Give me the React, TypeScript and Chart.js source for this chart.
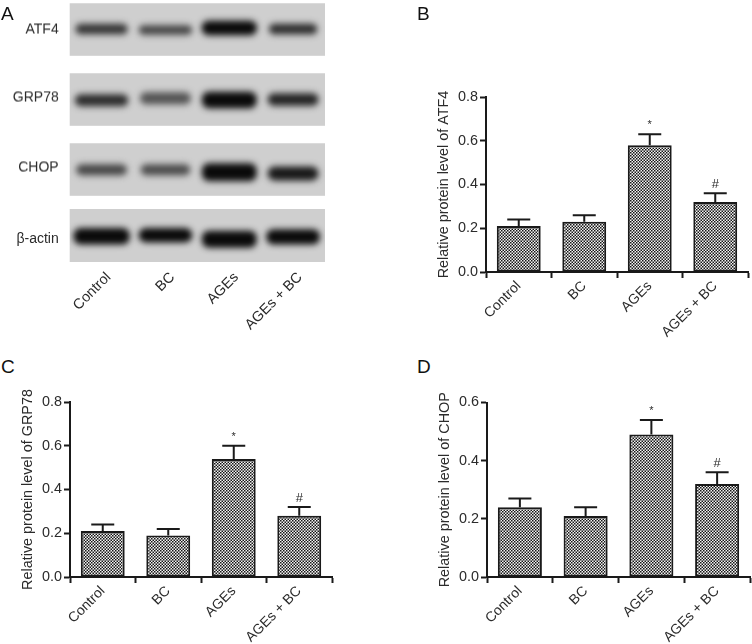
import React, { useEffect, useRef } from "react";
import { Chart, registerables } from "chart.js";

Chart.register(...registerables);

const categories = ["Control", "BC", "AGEs", "AGEs + BC"];

const atf4Values = [0.21, 0.23, 0.58, 0.32];
const atf4ErrorTops = [0.24, 0.26, 0.63, 0.36];
const grp78Values = [0.21, 0.19, 0.54, 0.28];
const grp78ErrorTops = [0.24, 0.22, 0.6, 0.32];
const chopValues = [0.24, 0.21, 0.49, 0.32];
const chopErrorTops = [0.27, 0.24, 0.54, 0.36];
const significance = ["", "", "*", "#"];
const ticksTo08 = [0, 0.2, 0.4, 0.6, 0.8];
const ticksTo06 = [0, 0.2, 0.4, 0.6];

// Blot bands: vertical extent (percent of strip height), optical density, lane-width share
const atf4Bands = [[41, 61], [40, 58], [39, 67], [41, 61]];
const atf4Density = [0.78, 0.7, 1, 0.82];
const atf4Widths = [0.82, 0.84, 0.87, 0.76];
const grp78Bands = [[37, 60], [41, 64], [33, 65], [38, 62]];
const grp78Density = [0.82, 0.62, 1, 0.86];
const grp78Widths = [0.84, 0.8, 0.86, 0.8];
const chopBands = [[39, 60], [39, 60], [28, 62], [29, 56]];
const chopDensity = [0.68, 0.66, 1, 0.92];
const chopWidths = [0.8, 0.78, 0.86, 0.8];
const actinBands = [[33, 64], [37, 64], [27, 59], [33, 62]];
const actinDensity = [1, 1, 1, 1];
const actinWidths = [0.88, 0.84, 0.86, 0.84];

const FONT = "'Liberation Sans', Arial, sans-serif";
const INK = "#2b2b2b";
const FONT_SIZE = 14.4;
const LABEL_SIZE = 14;

function hatch(): CanvasPattern | string {
  const c = document.createElement("canvas");
  c.width = 6;
  c.height = 6;
  const g = c.getContext("2d");
  if (!g) return "#888";
  g.fillStyle = "#f4f4f4";
  g.fillRect(0, 0, 6, 6);
  g.fillStyle = "#151515";
  for (let i = 0; i < 4; i++) {
    for (let j = 0; j < 4; j++) {
      if ((i + j) % 2 === 0) g.fillRect(i * 1.5, j * 1.5, 1.5, 1.5);
    }
  }
  return g.createPattern(c, "repeat") || "#888";
}

type BarBox = { left: number; top: number; width: number; height: number; areaLeft: number; areaTop: number; areaRight: number; areaBottom: number };

function BarPanel({ title, values, tops, max, ticks, box }: { title: string; values: number[]; tops: number[]; max: number; ticks: number[]; box: BarBox }) {
  const ref = useRef<HTMLCanvasElement>(null);
  useEffect(() => {
    const errorPlugin = {
      id: "errors",
      afterDatasetsDraw(chart: any) {
        const { ctx, scales } = chart;
        const meta = chart.getDatasetMeta(0);
        ctx.save();
        ctx.strokeStyle = "#1a1a1a";
        ctx.lineWidth = 2;
        meta.data.forEach((bar: any, i: number) => {
          const yTop = scales.y.getPixelForValue(tops[i]);
          const yBar = scales.y.getPixelForValue(values[i]);
          ctx.beginPath();
          ctx.moveTo(bar.x, yBar);
          ctx.lineTo(bar.x, yTop);
          ctx.moveTo(bar.x - 11.5, yTop);
          ctx.lineTo(bar.x + 11.5, yTop);
          ctx.stroke();
          if (significance[i]) {
            const star = significance[i] === "*";
            ctx.fillStyle = INK;
            ctx.textAlign = "center";
            ctx.textBaseline = "alphabetic";
            ctx.font = `${star ? 11 : 13}px ${FONT}`;
            ctx.fillText(significance[i], bar.x, yTop - (star ? 6 : 5));
          }
        });
        ctx.restore();
      },
    };
    const chart = new Chart(ref.current as HTMLCanvasElement, {
      type: "bar",
      data: {
        labels: categories,
        datasets: [
          {
            data: values,
            backgroundColor: hatch() as any,
            borderColor: "#1a1a1a",
            borderWidth: 2,
            borderSkipped: false,
            barPercentage: 0.67,
            categoryPercentage: 1,
          },
        ],
      },
      options: {
        responsive: false,
        animation: false,
        events: [],
        layout: {
          padding: {
            left: 0,
            top: box.areaTop - box.top,
            right: box.left + box.width - box.areaRight,
            bottom: 0,
          },
        },
        plugins: { legend: { display: false }, tooltip: { enabled: false }, title: { display: false } },
        scales: {
          x: {
            type: "category",
            offset: true,
            afterFit: (s: any) => {
              s.height = box.top + box.height - box.areaBottom;
            },
            grid: { display: true, drawOnChartArea: false, tickLength: 6, tickWidth: 2, tickColor: "#1a1a1a" },
            border: { display: true, color: "#1a1a1a", width: 2 },
            ticks: { font: { family: FONT, size: LABEL_SIZE }, color: INK, maxRotation: 45, minRotation: 45, padding: 0, autoSkip: false },
          },
          y: {
            type: "linear",
            min: 0,
            max,
            afterFit: (s: any) => {
              s.width = box.areaLeft - box.left;
            },
            afterBuildTicks: (s: any) => {
              s.ticks = ticks.map((value) => ({ value }));
            },
            grid: { display: true, drawOnChartArea: false, tickLength: 6, tickWidth: 2, tickColor: "#1a1a1a" },
            border: { display: true, color: "#1a1a1a", width: 2 },
            ticks: { font: { family: FONT, size: FONT_SIZE }, color: INK, padding: 2, callback: (v: any) => Number(v).toFixed(1) },
            title: { display: true, text: title, font: { family: FONT, size: FONT_SIZE }, color: INK, padding: { top: 0, bottom: 0 } },
          },
        },
      } as any,
      plugins: [errorPlugin],
    });
    return () => chart.destroy();
  }, []);
  return <canvas ref={ref} width={box.width} height={box.height} style={{ position: "absolute", left: box.left, top: box.top, width: box.width, height: box.height }} />;
}

function BlotStrip({ name, namePos, bands, density, widths, top, height, showLanes }: { name: string; namePos: number; bands: number[][]; density: number[]; widths: number[]; top: number; height: number; showLanes?: boolean }) {
  const ref = useRef<HTMLCanvasElement>(null);
  const pad = 24;
  const canvasHeight = height + pad + (showLanes ? 74 : pad);
  useEffect(() => {
    const blurPlugin = {
      id: "blot",
      beforeDatasetsDraw(chart: any) {
        const { ctx, chartArea: a } = chart;
        ctx.save();
        ctx.fillStyle = "#cfcfcf";
        ctx.fillRect(a.left, a.top, a.right - a.left, a.bottom - a.top);
        ctx.restore();
      },
      beforeDatasetDraw(chart: any) {
        chart.ctx.save();
        chart.ctx.filter = "blur(3px)";
      },
      afterDatasetDraw(chart: any) {
        chart.ctx.restore();
      },
    };
    const chart = new Chart(ref.current as HTMLCanvasElement, {
      type: "bar",
      data: {
        labels: categories,
        datasets: bands.map((band, i) => {
          const shade = Math.round(205 - 195 * density[i]);
          return {
            data: categories.map((_, j) => (j === i ? band : null)),
            backgroundColor: `rgb(${shade},${shade},${shade})`,
            borderWidth: 0,
            borderRadius: 7,
            borderSkipped: false,
            grouped: false,
            barPercentage: widths[i],
            categoryPercentage: 1,
          };
        }) as any,
      },
      options: {
        responsive: false,
        animation: false,
        events: [],
        layout: { padding: { top: pad, right: 55, left: 0, bottom: showLanes ? 0 : pad } },
        plugins: { legend: { display: false }, tooltip: { enabled: false } },
        scales: {
          x: {
            type: "category",
            display: !!showLanes,
            afterFit: (s: any) => {
              if (showLanes) s.height = 74;
            },
            grid: { display: false, drawTicks: false },
            border: { display: false },
            ticks: { font: { family: FONT, size: FONT_SIZE }, color: INK, maxRotation: 45, minRotation: 45, padding: 7, labelOffset: 7, autoSkip: false },
          },
          y: {
            type: "linear",
            min: 0,
            max: 100,
            afterFit: (s: any) => {
              s.width = 69.7;
            },
            afterBuildTicks: (s: any) => {
              s.ticks = [{ value: namePos }];
            },
            grid: { display: false, drawTicks: false },
            border: { display: false },
            ticks: { font: { family: FONT, size: LABEL_SIZE }, color: INK, padding: 11, callback: () => name },
          },
        },
      } as any,
      plugins: [blurPlugin],
    });
    return () => chart.destroy();
  }, []);
  return <canvas ref={ref} width={380} height={canvasHeight} style={{ position: "absolute", left: 0, top: top - pad, width: 380, height: canvasHeight }} />;
}

const letterStyle = (left: number, top: number): React.CSSProperties => ({
  position: "absolute",
  left,
  top,
  font: `19px/19px ${FONT}`,
  color: "#111",
});

export default function App() {
  return (
    <div style={{ position: "absolute", left: 0, top: 0, width: 752, height: 644, background: "#fff", overflow: "hidden" }}>
      <BlotStrip name="ATF4" namePos={50} bands={atf4Bands} density={atf4Density} widths={atf4Widths} top={3.3} height={52.4} />
      <BlotStrip name="GRP78" namePos={54} bands={grp78Bands} density={grp78Density} widths={grp78Widths} top={73.3} height={52.4} />
      <BlotStrip name="CHOP" namePos={53} bands={chopBands} density={chopDensity} widths={chopWidths} top={143.3} height={52.7} />
      <BlotStrip name="β-actin" namePos={43} bands={actinBands} density={actinDensity} widths={actinWidths} top={209.3} height={53} showLanes />
      <BarPanel title="Relative protein level of ATF4" values={atf4Values} tops={atf4ErrorTops} max={0.8} ticks={ticksTo08}
        box={{ left: 435, top: 80, width: 317, height: 275, areaLeft: 486, areaTop: 97, areaRight: 748, areaBottom: 272 }} />
      <BarPanel title="Relative protein level of GRP78" values={grp78Values} tops={grp78ErrorTops} max={0.8} ticks={ticksTo08}
        box={{ left: 19, top: 385, width: 325, height: 259, areaLeft: 70, areaTop: 402, areaRight: 332, areaBottom: 577 }} />
      <BarPanel title="Relative protein level of CHOP" values={chopValues} tops={chopErrorTops} max={0.6} ticks={ticksTo06}
        box={{ left: 436, top: 385, width: 316, height: 259, areaLeft: 487, areaTop: 402.5, areaRight: 750, areaBottom: 577 }} />
      <span style={letterStyle(1, 4)}>A</span>
      <span style={letterStyle(417, 4)}>B</span>
      <span style={letterStyle(1, 357)}>C</span>
      <span style={letterStyle(417, 357)}>D</span>
    </div>
  );
}
